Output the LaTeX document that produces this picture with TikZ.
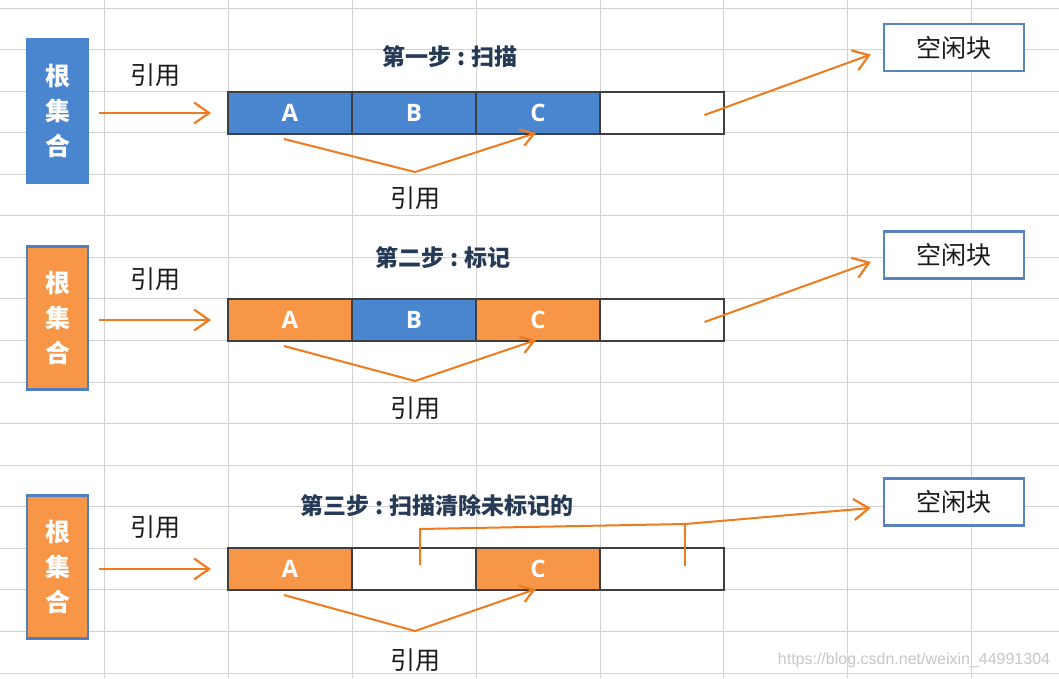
\documentclass[tikz,border=0pt]{standalone}
\usepackage{fontspec}
\setmainfont{Noto Sans CJK SC}
\newfontfamily\wmfont{Liberation Sans}
\newfontfamily\letterfont{Open Sans}
\usetikzlibrary{arrows.meta}
\definecolor{gridc}{HTML}{D2D2D2}
\definecolor{bluef}{HTML}{4A86D0}
\definecolor{blueb}{HTML}{4F7FC0}
\definecolor{orangef}{HTML}{F79646}
\definecolor{arrowc}{HTML}{F07A1E}
\definecolor{titlec}{HTML}{263A56}
\definecolor{cellb}{HTML}{3F3F3F}
\definecolor{freeb}{HTML}{5A82BE}
\definecolor{labc}{HTML}{1A1A1A}
\newcommand\stepcolon{\hspace{0.25em}:\hspace{0.25em}}
\begin{document}
\begin{tikzpicture}[x=1pt,y=-1pt,
  gridline/.style={draw=gridc, line width=1pt},
  cellbox/.style={rectangle, draw=cellb, line width=2pt, minimum width=124pt, minimum height=42pt, inner sep=0pt, text=white, font=\letterfont\bfseries\fontsize{24}{24}\selectfont},
  bluecell/.style={cellbox, fill=bluef},
  orangecell/.style={cellbox, fill=orangef},
  emptycell/.style={cellbox, fill=white},
  rootbox/.style={rectangle, line width=2.5pt, minimum width=61pt, minimum height=143pt, inner sep=0pt, text=white, align=center, font=\bfseries\fontsize{25}{35}\selectfont},
  freebox/.style={rectangle, draw=freeb, line width=2.5pt, fill=white, minimum width=140pt, minimum height=47pt, inner sep=0pt, text=labc, font=\fontsize{25}{25}\selectfont},
  steptitle/.style={text=titlec, font=\bfseries\fontsize{23}{23}\selectfont, inner sep=0pt},
  reflabel/.style={text=labc, font=\fontsize{25}{25}\selectfont, inner sep=0pt},
  refarrow/.style={draw=arrowc, line width=2pt, -{Straight Barb[length=15pt,width=21pt,line width=2.2pt]}},
  varrow/.style={draw=arrowc, line width=2pt, line join=miter, -{Straight Barb[length=13pt,width=17pt,line width=2.2pt]}},
  plainline/.style={draw=arrowc, line width=2pt}
]
\useasboundingbox (0,0) rectangle (1059,678);
\fill[white] (0,0) rectangle (1059,678);
% grid
\foreach \x in {104,228,352,476,600,723,847,971} \draw[gridline] (\x,0) -- (\x,678);
\foreach \k in {0,...,16} {\pgfmathsetmacro\yy{8+41.5625*\k}\draw[gridline] (0,\yy) -- (1059,\yy);}

% ---------- row 1 ----------
\node[rootbox, fill=bluef, draw=bluef] (r1) at (57.5,111) {根\\集\\合};
\node[bluecell] (a1) at (290,113) {A};
\node[bluecell] (b1) at (414,113) {B};
\node[bluecell] (c1) at (538,113) {C};
\node[emptycell] (d1) at (661.5,113) {};
\node[freebox] (f1) at (954,47.5) {空闲块};
\node[steptitle] (t1) at (450,57) {第一步\stepcolon 扫描};
\node[reflabel] (l1) at (155,75) {引用};
\node[reflabel] (m1) at (415,198) {引用};
\coordinate (v1) at (415,172);
\draw[refarrow, shorten <=10pt, shorten >=16pt] (r1.east |- a1.west) -- (a1.west);
\draw[varrow] ([xshift=-6pt,yshift=-4pt]a1.south) -- (v1) -- ([xshift=-2pt,yshift=2pt]c1.south);
\draw[refarrow] ([xshift=43pt,yshift=-2pt]d1.center) -- ([xshift=-12pt,yshift=-7pt]f1.west);

% ---------- row 2 ----------
\node[rootbox, fill=orangef, draw=blueb] (r2) at (57.5,318) {根\\集\\合};
\node[orangecell] (a2) at (290,320) {A};
\node[bluecell] (b2) at (414,320) {B};
\node[orangecell] (c2) at (538,320) {C};
\node[emptycell] (d2) at (661.5,320) {};
\node[freebox] (f2) at (954,255) {空闲块};
\node[steptitle] (t2) at (443,258) {第二步\stepcolon 标记};
\node[reflabel] (l2) at (155,279) {引用};
\node[reflabel] (m2) at (415,408) {引用};
\coordinate (v2) at (415,381);
\draw[refarrow, shorten <=10pt, shorten >=16pt] (r2.east |- a2.west) -- (a2.west);
\draw[varrow] ([xshift=-6pt,yshift=-4pt]a2.south) -- (v2) -- ([xshift=-2pt,yshift=2pt]c2.south);
\draw[refarrow] ([xshift=43pt,yshift=-2pt]d2.center) -- ([xshift=-12pt,yshift=-7pt]f2.west);

% ---------- row 3 ----------
\node[rootbox, fill=orangef, draw=blueb] (r3) at (57.5,567) {根\\集\\合};
\node[orangecell] (a3) at (290,569) {A};
\node[emptycell] (b3) at (414,569) {};
\node[orangecell] (c3) at (538,569) {C};
\node[emptycell] (d3) at (661.5,569) {};
\node[freebox] (f3) at (954,502) {空闲块};
\node[steptitle] (t3) at (437,506) {第三步\stepcolon 扫描清除未标记的};
\node[reflabel] (l3) at (155,527) {引用};
\node[reflabel] (m3) at (415,660) {引用};
\coordinate (v3) at (415,631);
\coordinate (j1) at (420,529);
\coordinate (j2) at (685,524);
\draw[refarrow, shorten <=10pt, shorten >=16pt] (r3.east |- a3.west) -- (a3.west);
\draw[varrow] ([xshift=-6pt,yshift=-4pt]a3.south) -- (v3) -- ([xshift=-2pt,yshift=2pt]c3.south);
\draw[refarrow, line join=miter] ([xshift=6pt,yshift=4pt]b3.center) -- (j1) -- (j2) -- ([xshift=-12pt,yshift=-6pt]f3.west);
\draw[plainline] ([xshift=23.5pt,yshift=3pt]d3.center) -- (j2);

% watermark
\node[text=black!22, font=\wmfont\fontsize{16}{16}\selectfont, inner sep=0pt] (wm) at (914,660) {https://blog.csdn.net/weixin\_44991304};
\end{tikzpicture}
\end{document}
